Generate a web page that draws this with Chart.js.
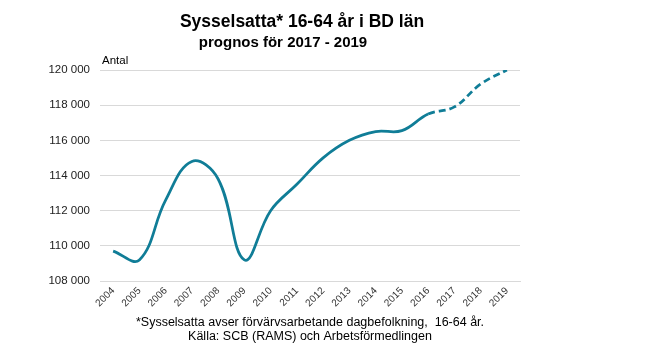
<!DOCTYPE html>
<html>
<head>
<meta charset="utf-8">
<script src="https://cdn.jsdelivr.net/npm/chart.js@4/dist/chart.umd.min.js"></script>
<style>
  html, body { margin: 0; padding: 0; background: #fff; }
  #wrap { position: relative; width: 646px; height: 361px; }
</style>
</head>
<body>
<div id="wrap"><canvas id="grafico" width="646" height="361"></canvas></div>
<script>
const ar = ['2004', '2005', '2006', '2007', '2008', '2009', '2010', '2011',
  '2012', '2013', '2014', '2015', '2016', '2017', '2018', '2019'];
const sysselsatta = [109700, 109200, 112600, 114800, 113800, 109200, 112000, 113500,
  115000, 116000, 116500, 116550, 117500, 117900, 119200, 120000];
const yTicks = [108000, 110000, 112000, 114000, 116000, 118000, 120000];
const prognosStart = 12; // index for 2016, dashed line from here

const rubrik = 'Sysselsatta* 16-64 år i BD län';
const underrubrik = 'prognos för 2017 - 2019';
const fotnot = [
  '*Sysselsatta avser förvärvsarbetande dagbefolkning,  16-64 år.',
  'Källa: SCB (RAMS) och Arbetsförmedlingen'
];

const fontFam = '"Liberation Sans", Arial, sans-serif';

function formatTal(v) {
  return String(v).replace(/\B(?=(\d{3})+(?!\d))/g, ' ');
}

const texter = {
  id: 'texter',
  afterDraw(chart) {
    const c = chart.ctx;
    c.save();
    c.fillStyle = '#000';
    c.textBaseline = 'alphabetic';
    c.textAlign = 'center';
    c.font = 'bold 17.5px ' + fontFam;
    c.fillText(rubrik, 302, 27);
    c.font = 'bold 15px ' + fontFam;
    c.fillText(underrubrik, 283, 47);
    c.textAlign = 'left';
    c.font = '11.5px ' + fontFam;
    c.fillText('Antal', 102, 64);
    c.textAlign = 'center';
    c.font = '12.5px ' + fontFam;
    c.fillText(fotnot[0], 310, 326);
    c.fillText(fotnot[1], 310, 340);
    c.restore();
  }
};

const ctx = document.getElementById('grafico').getContext('2d');
const grafico = new Chart(ctx, {
  type: 'line',
  data: {
    labels: ar,
    datasets: [{
      data: sysselsatta,
      borderColor: '#107d97',
      borderWidth: 2.75,
      pointRadius: 0,
      tension: 0.4,
      fill: false,
      segment: {
        borderDash: c => c.p0DataIndex >= prognosStart ? [7, 4] : undefined
      }
    }]
  },
  options: {
    responsive: false,
    animation: false,
    layout: { padding: { top: 70, left: 0, right: 126, bottom: 40 } },
    plugins: { legend: { display: false }, tooltip: { enabled: false } },
    scales: {
      x: {
        offset: true,
        grid: { display: false },
        border: { display: true, color: '#d9d9d9', width: 1 },
        ticks: {
          color: '#333',
          font: { family: fontFam, size: 10 },
          minRotation: 45,
          maxRotation: 45,
          padding: -4,
          autoSkip: false
        },
        afterFit: s => { s.height = 40; }
      },
      y: {
        min: 108000,
        max: 120000,
        afterBuildTicks: s => { s.ticks = yTicks.map(v => ({ value: v })); },
        grid: { color: '#d9d9d9', drawTicks: false },
        border: { display: false },
        ticks: {
          color: '#222',
          font: { family: fontFam, size: 11.5 },
          padding: 10,
          callback: v => formatTal(v)
        },
        afterFit: s => { s.width = 100; }
      }
    }
  },
  plugins: [texter]
});
</script>
</body>
</html>
